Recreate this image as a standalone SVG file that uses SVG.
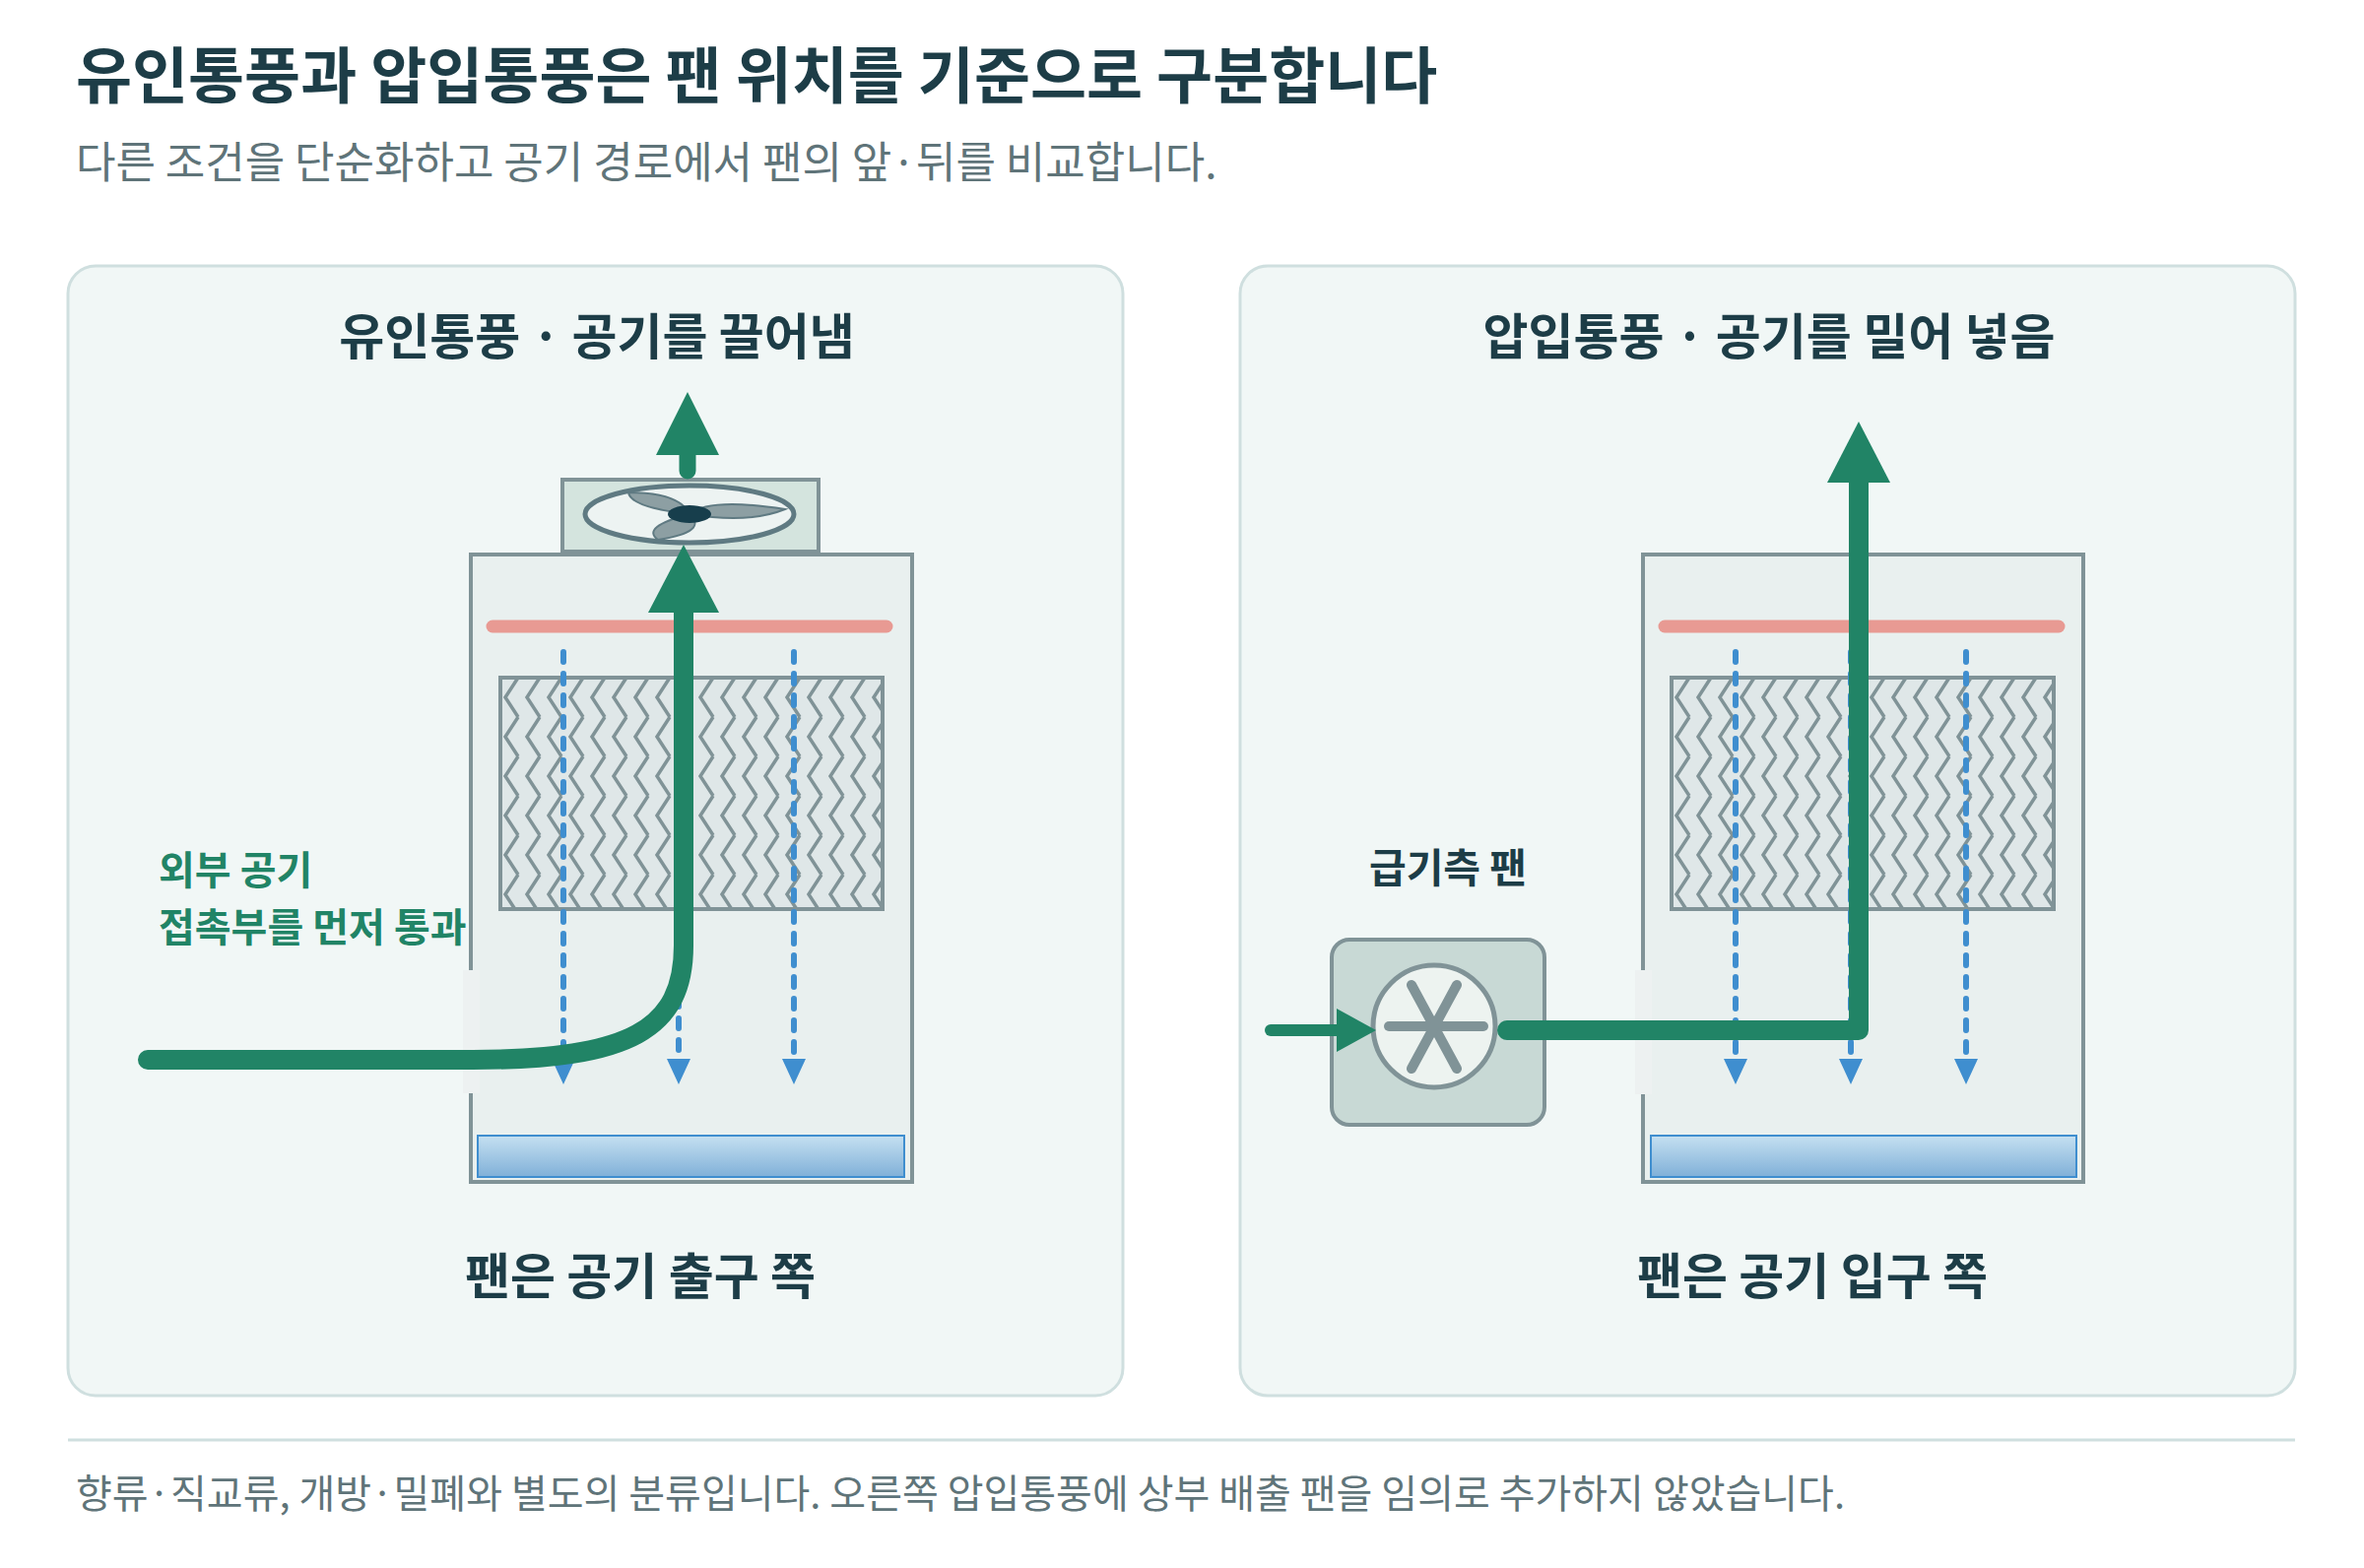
<svg xmlns="http://www.w3.org/2000/svg" width="2400" height="1592" viewBox="0 0 2400 1592">
<style>
.t{font-family:"Noto Sans CJK KR","Noto Sans",sans-serif}
.panel{fill:#f1f7f6;stroke:#cfdfdf;stroke-width:3}
.tower{fill:#e9f0ef;stroke:#809397;stroke-width:4}
.red{stroke:#e89a93;stroke-width:13;stroke-linecap:round}
.media{stroke:#809397;stroke-width:4}
.basin{fill:url(#bg);stroke:#3f8ecf;stroke-width:2}
.drip{stroke:#3f8ecf;stroke-width:6;stroke-dasharray:10 12;stroke-linecap:round;fill:none}
.dtip{fill:#3f8ecf}
.g{stroke:#218466;fill:none;stroke-linecap:round;stroke-linejoin:round}
.gf{fill:#218466}
.ptitle{font-size:50px;font-weight:700;fill:#1d3d47;text-anchor:middle}
</style>
<defs>
<pattern id="zig" width="22" height="40" patternUnits="userSpaceOnUse" x="508" y="688">
<rect width="22" height="40" fill="#dfe7e8"/>
<path d="M18,0 L5,20 L18,40" fill="none" stroke="#809397" stroke-width="3.5"/>
</pattern>
<pattern id="zig2" width="22" height="40" patternUnits="userSpaceOnUse" x="1697" y="688">
<rect width="22" height="40" fill="#dfe7e8"/>
<path d="M18,0 L5,20 L18,40" fill="none" stroke="#809397" stroke-width="3.5"/>
</pattern>
<linearGradient id="bg" x1="0" y1="0" x2="0" y2="1">
<stop offset="0" stop-color="#c5e0f1"/><stop offset="1" stop-color="#80b0d8"/>
</linearGradient>
</defs>
<rect width="2400" height="1592" fill="#ffffff"/>
<text class="t" x="77" y="100" font-size="62" font-weight="700" fill="#1d3d47">유인통풍과 압입통풍은 팬 위치를 기준으로 구분합니다</text>
<text class="t" x="77" y="181" font-size="44" fill="#5f7479">다른 조건을 단순화하고 공기 경로에서 팬의 앞·뒤를 비교합니다.</text>

<g id="panel-left">
<rect class="panel" x="69" y="270" width="1071" height="1147" rx="28"/>
<text class="t ptitle" x="606" y="360">유인통풍 · 공기를 끌어냄</text>
<text class="t ptitle" x="650" y="1314" font-size="51">팬은 공기 출구 쪽</text>
</g>
<g id="tower-left">
<rect class="tower" x="478" y="563" width="448" height="637"/>
<rect x="470" y="985" width="17" height="125" fill="#edf1f1"/>
<line class="red" x1="500" y1="636" x2="900" y2="636"/>
<rect class="media" x="508" y="688" width="388" height="235" fill="url(#zig)"/>
<rect class="basin" x="485" y="1153" width="433" height="42"/>
</g>
<g id="fan-left">
<rect x="571" y="487" width="260" height="73" fill="#d4e4de" stroke="#809397" stroke-width="4"/>
<ellipse cx="700" cy="522" rx="106" ry="29" fill="#edf3f2" stroke="#5f7a82" stroke-width="5"/>
<g fill="#8d9fa3" stroke="#5f7a82" stroke-width="2">
<path d="M700,522 Q720,505 797,517 Q760,532 700,522 Z"/>
<path d="M700,522 Q690,500 638,500 Q640,515 700,522 Z"/>
<path d="M700,522 Q720,540 668,548 Q650,535 700,522 Z"/>
</g>
<ellipse cx="700" cy="522" rx="22" ry="9" fill="#173e4c"/>
</g>
<g id="label-left">
<text class="t" x="161" y="898" font-size="40" font-weight="700" fill="#218466">외부 공기</text>
<text class="t" x="161" y="956" font-size="40" font-weight="700" fill="#218466">접촉부를 먼저 통과</text>
</g>

<g id="panel-right">
<rect class="panel" x="1259" y="270" width="1071" height="1147" rx="28"/>
<text class="t ptitle" x="1796" y="360">압입통풍 · 공기를 밀어 넣음</text>
<text class="t ptitle" x="1840" y="1314" font-size="51">팬은 공기 입구 쪽</text>
</g>
<g id="tower-right">
<rect class="tower" x="1668" y="563" width="447" height="637"/>
<rect x="1660" y="985" width="17" height="126" fill="#edf1f1"/>
<line class="red" x1="1690" y1="636" x2="2090" y2="636"/>
<rect class="media" x="1697" y="688" width="388" height="235" fill="url(#zig2)"/>
<rect class="basin" x="1676" y="1153" width="432" height="42"/>
</g>
<g id="fan-right">
<text class="t" x="1470" y="896" font-size="41" font-weight="700" fill="#1d3d47" text-anchor="middle">급기측 팬</text>
<rect x="1352" y="954" width="216" height="188" rx="18" fill="#c8d9d5" stroke="#809397" stroke-width="4"/>
<circle cx="1456" cy="1042" r="62" fill="#edf3f0" stroke="#809397" stroke-width="5"/>
<g stroke="#809397" stroke-width="10" stroke-linecap="round">
<line x1="1410" y1="1042" x2="1506" y2="1042"/>
<line x1="1433" y1="1000" x2="1479" y2="1085"/>
<line x1="1479" y1="1000" x2="1433" y2="1085"/>
</g>
</g>

<g id="connectors">
<line class="drip" x1="572" y1="662" x2="572" y2="1070"/>
<line class="drip" x1="689" y1="1012" x2="689" y2="1070"/>
<line class="drip" x1="806" y1="662" x2="806" y2="1070"/>
<path class="dtip" d="M560,1075 L584,1075 L572,1101 Z M677,1075 L701,1075 L689,1101 Z M794,1075 L818,1075 L806,1101 Z"/>
<line class="drip" x1="1762" y1="662" x2="1762" y2="1070"/>
<line class="drip" x1="1879" y1="662" x2="1879" y2="1070"/>
<line class="drip" x1="1996" y1="662" x2="1996" y2="1070"/>
<path class="dtip" d="M1750,1075 L1774,1075 L1762,1101 Z M1867,1075 L1891,1075 L1879,1101 Z M1984,1075 L2008,1075 L1996,1101 Z"/>

<path class="g" stroke-width="20" d="M150,1076 L480,1076 C640,1076 694,1045 694,960 L694,600"/>
<path class="gf" d="M658,622 L730,622 L694,553 Z"/>
<path class="g" stroke-width="17" d="M698,478 L698,440"/>
<path class="gf" d="M666,462 L730,462 L698,398 Z"/>

<path class="g" stroke-width="12" d="M1290,1046 L1380,1046"/>
<path class="gf" d="M1357,1024 L1397,1046 L1357,1068 Z"/>
<path class="g" stroke-width="20" d="M1530,1046 L1887,1046 L1887,470"/>
<path class="gf" d="M1855,490 L1919,490 L1887,428 Z"/>
</g>

<line x1="69" y1="1462" x2="2330" y2="1462" stroke="#cfdfdf" stroke-width="3"/>
<text class="t" x="77" y="1531" font-size="40" fill="#5f7479">향류·직교류, 개방·밀폐와 별도의 분류입니다. 오른쪽 압입통풍에 상부 배출 팬을 임의로 추가하지 않았습니다.</text>
</svg>
